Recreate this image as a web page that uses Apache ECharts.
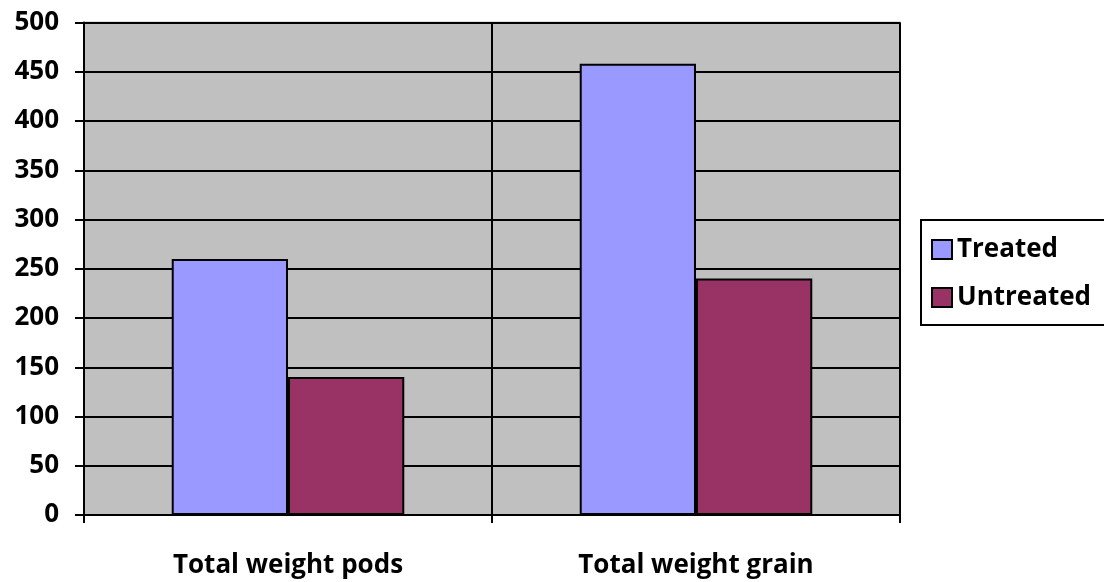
<!DOCTYPE html>
<html>
<head>
<meta charset="utf-8">
<script src="https://cdn.jsdelivr.net/npm/echarts@6/dist/echarts.min.js"></script>
<style>html,body{margin:0;padding:0;background:#fff}#c{width:1104px;height:582px}</style>
</head>
<body>
<div id="c"></div>
<script>
const categories = ['Total weight pods', 'Total weight grain'];
const treated = [260, 458];
const untreated = [140, 240];
const seriesNames = ['Treated', 'Untreated'];

const FONT = '"Open Sans", "DejaVu Sans", sans-serif';
const chart = echarts.init(document.getElementById('c'), null, {renderer: 'canvas'});
chart.setOption({
  animation: false,
  backgroundColor: '#ffffff',
  grid: {
    left: 84, right: 204, top: 22.5, bottom: 67,
    show: true, backgroundColor: '#C0C0C0', borderColor: '#808080', borderWidth: 1.5,
    containLabel: false
  },
  legend: {
    orient: 'vertical',
    left: 921, top: 220,
    padding: [15, 30, 13, 10],
    backgroundColor: '#ffffff',
    borderColor: '#000000', borderWidth: 2,
    itemWidth: 20, itemHeight: 19, itemGap: 19,
    icon: 'rect',
    textStyle: {fontFamily: FONT, fontWeight: 'bold', fontSize: 26, color: '#000', lineHeight: 29},
    data: seriesNames
  },
  xAxis: {
    type: 'category',
    data: categories,
    axisLine: {lineStyle: {color: '#000', width: 2}},
    axisTick: {show: true, length: 8, lineStyle: {color: '#000', width: 2}},
    splitLine: {show: true, lineStyle: {color: '#000', width: 2}},
    axisLabel: {fontFamily: FONT, fontWeight: 'bold', fontSize: 26, color: '#000', margin: 38}
  },
  yAxis: {
    type: 'value',
    min: 0, max: 500, interval: 50,
    axisLine: {show: true, lineStyle: {color: '#000', width: 2}},
    axisTick: {show: true, length: 9, lineStyle: {color: '#000', width: 2}},
    splitLine: {show: true, lineStyle: {color: '#000', width: 2}},
    axisLabel: {fontFamily: FONT, fontWeight: 'bold', fontSize: 26, color: '#000', margin: 25}
  },
  series: [
    {
      name: seriesNames[0], type: 'bar', data: treated,
      barGap: '0%', barCategoryGap: '43%',
      itemStyle: {color: '#9999FF', borderColor: '#000', borderWidth: 2}
    },
    {
      name: seriesNames[1], type: 'bar', data: untreated,
      barGap: '0%', barCategoryGap: '43%',
      itemStyle: {color: '#993366', borderColor: '#000', borderWidth: 2}
    }
  ]
});
</script>
</body>
</html>
